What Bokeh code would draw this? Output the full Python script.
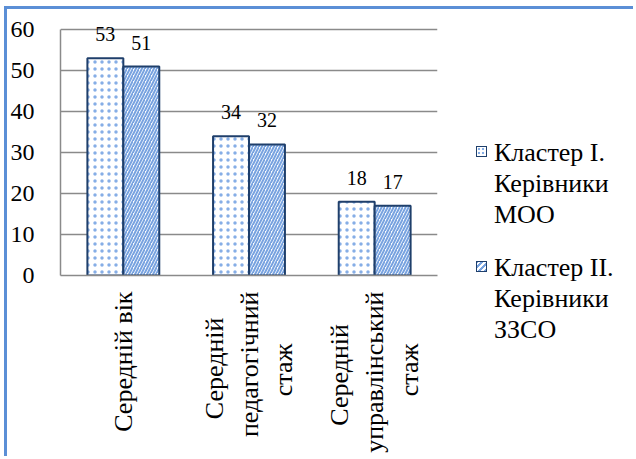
import math
from bokeh.plotting import figure
from bokeh.layouts import row
from bokeh.models import (ColumnDataSource, FactorRange, Range1d, LabelSet, Div,
                          SingleIntervalTicker)
from bokeh.transform import dodge
from bokeh.embed import file_html
from bokeh.resources import INLINE

# categories, one list of label lines per category
category_lines = [["Середній вік"],
                  ["Середній", "педагогічний", "стаж"],
                  ["Середній", "управлінський", "стаж"]]
# series values
cluster1 = [53, 34, 18]
cluster2 = [51, 32, 17]
series_names = [["Кластер I.", "Керівники", "МОО"], ["Кластер II.", "Керівники", "ЗЗСО"]]
y_ticks = [0, 10, 20, 30, 40, 50, 60]

SERIF = "Liberation Serif"
EDGE = "#1f3f6b"
DOTS = "#86aee6"
STRIPES = "#78a3e0"
GRID = "#8a8a8a"
FRAME = "#5b8fd6"
BORDER = f"3px solid {FRAME}"
NBSP = "\u00a0"


def centred_label(lines):
    # rotated tick labels are end-aligned; pad shorter lines so they sit centred
    longest = max(len(s) for s in lines)
    return "\n".join(s + NBSP * round((longest - len(s)) * 0.94) for s in lines)


categories = [centred_label(l) for l in category_lines]

src = ColumnDataSource(dict(cat=categories, c1=cluster1, c2=cluster2,
                            t1=[str(v) for v in cluster1],
                            t2=[str(v) for v in cluster2]))

# ---- main chart -------------------------------------------------------
p = figure(x_range=FactorRange(*categories), y_range=Range1d(y_ticks[0], y_ticks[-1] + 2),
           width=453, height=450,
           min_border_left=53, min_border_right=23,
           min_border_top=12, min_border_bottom=184,
           output_backend="svg", toolbar_location=None)
p.margin = (6, 0, 0, 4)
p.styles = {"border-top": BORDER, "border-left": BORDER}
p.outline_line_color = None
p.background_fill_color = "white"
p.border_fill_color = "white"

bw = 0.286
p.vbar(x=dodge("cat", -bw / 2, range=p.x_range), top="c1", width=bw, source=src,
       fill_color="white", line_color=EDGE, line_width=2,
       hatch_pattern=".", hatch_color=DOTS, hatch_scale=7, hatch_weight=2)
p.vbar(x=dodge("cat", bw / 2, range=p.x_range), top="c2", width=bw, source=src,
       fill_color="white", line_color=EDGE, line_width=2,
       hatch_pattern="/", hatch_color=STRIPES, hatch_scale=6, hatch_weight=2)

for txt, val, off in (("t1", "c1", -bw / 2), ("t2", "c2", bw / 2)):
    p.add_layout(LabelSet(x=dodge("cat", off, range=p.x_range), y=val,
                          text=txt, source=src, y_offset=17,
                          text_align="center", text_baseline="alphabetic",
                          text_font=SERIF, text_font_size="20px", text_color="black"))

p.xgrid.grid_line_color = None
p.ygrid.grid_line_color = GRID
p.ygrid.grid_line_width = 1.5
p.yaxis.ticker = SingleIntervalTicker(interval=10)
p.yaxis.bounds = (y_ticks[0], y_ticks[-1])
for ax in (p.xaxis[0], p.yaxis[0]):
    ax.axis_line_color = GRID
    ax.axis_line_width = 1.5
    ax.major_tick_line_color = None
    ax.minor_tick_line_color = None
    ax.major_tick_out = 0
    ax.major_label_text_font = SERIF
    ax.major_label_text_color = "black"
p.yaxis.major_label_text_font_size = "24px"
p.yaxis.major_label_standoff = 22
p.xaxis.major_label_text_font_size = "26px"
p.xaxis.major_label_orientation = math.pi / 2
p.xaxis.major_label_standoff = 16

# ---- legend -----------------------------------------------------------
swatch_bg = [
    f"radial-gradient(circle, {DOTS} 1px, transparent 1.6px) 0 0 / 4px 4px, white",
    f"repeating-linear-gradient(-45deg, {STRIPES} 0 2px, white 2px 4px)",
]
items = []
for top, lines, bg in zip([128, 243], series_names, swatch_bg):
    items.append(
        f'<div style="position:absolute;left:19px;top:{top + 9}px;width:11px;height:11px;'
        f'border:1.5px solid {EDGE};background:{bg};"></div>'
        f'<div style="position:absolute;left:37px;top:{top}px;white-space:nowrap;">'
        + "<br>".join(lines) + "</div>")
legend_html = (f'<div style="position:relative;width:176px;height:441px;'
               f'font-family:\'{SERIF}\';font-size:26px;line-height:31px;color:black;">'
               + "".join(items) + "</div>")
legend = Div(text=legend_html, width=176, height=441, margin=(6, 0, 0, 0),
             styles={"border-top": BORDER})

open("out.html", "w").write(file_html(row(p, legend), INLINE))
